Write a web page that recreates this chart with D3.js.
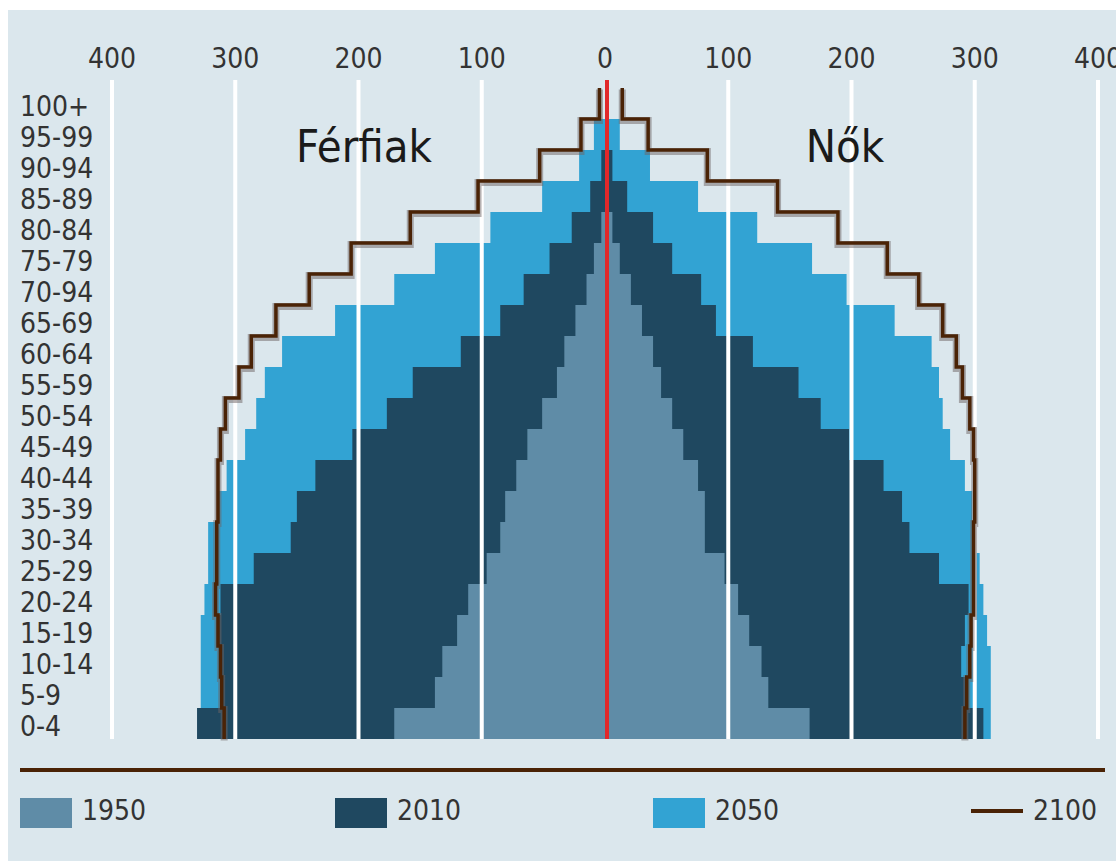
<!DOCTYPE html>
<head>
    <meta charset="utf-8"/>
    <script src="https://d3js.org/d3.v7.min.js"></script>
    <style>
        body {
            margin: 0;
            background: #fff;
        }
        text {
            font-family: "DejaVu Sans Condensed", "DejaVu Sans", sans-serif;
            font-stretch: condensed;
        }
    </style>
</head>

<body>
<script>
    var width = 1116,
        height = 861;

    // age groups, top to bottom (label "70-94" is as printed in the original)
    var ages = ["100+", "95-99", "90-94", "85-89", "80-84", "75-79", "70-94", "65-69", "60-64", "55-59",
        "50-54", "45-49", "40-44", "35-39", "30-34", "25-29", "20-24", "15-19", "10-14", "5-9", "0-4"];

    // férfiak (left), millions
    var men1950 = [0, 0, 0, 0, 3, 9, 15, 24, 33, 39, 51, 63, 72, 81, 85, 96, 111, 120, 132, 138, 171];
    var men2010 = [0, 0, 3, 12, 27, 45, 66, 85, 117, 156, 177, 205, 235, 250, 255, 285, 312, 314, 313, 312, 331];
    var men2050 = [0, 9, 21, 51, 93, 138, 171, 219, 262, 276, 283, 292, 307, 313, 322, 322, 325, 328, 328, 328, 325];
    var men2100 = [4.5, 19.5, 53, 103, 158, 206, 240, 267, 287, 297, 308, 312, 314, 314, 315, 315, 316, 314, 312, 311, 309];

    // nők (right)
    var women1950 = [0, 0, 0, 0, 6, 12, 21, 30, 39, 45.5, 54.5, 63.5, 75.5, 81, 81, 97, 108, 117, 127, 132.5, 166];
    var women2010 = [0, 0, 6, 18, 39, 54.5, 78, 90, 120, 157, 175, 198, 226, 241, 247, 271, 295, 292, 289, 292, 307];
    var women2050 = [0, 12, 36.5, 75.5, 123.5, 168, 196, 235, 265, 271, 274, 280, 292, 298, 299, 304, 307, 310, 313, 313, 313];
    var women2100 = [14, 35, 83, 140, 189, 229, 254.5, 274, 285, 290, 296, 299, 300, 300, 299, 299, 299, 297, 296, 293.5, 292];

    var ticks = [0, 100, 200, 300, 400];
    var years = ["1950", "2010", "2050", "2100"];

    var colors = {"1950": "#5f8ca7", "2010": "#1f4860", "2050": "#32a3d3", "2100": "#4a2306"};

    var svg = d3.select("body").append("svg")
        .attr("width", width)
        .attr("height", height);

    // fond
    svg.append("rect")
        .attr("x", 8).attr("y", 10)
        .attr("width", width - 8).attr("height", height - 10)
        .attr("fill", "#dbe7ed");

    var xL = d3.scaleLinear().domain([0, 400]).range([605, 112]);
    var xR = d3.scaleLinear().domain([0, 400]).range([605, 1098]);
    var y = d3.scaleBand().domain(ages).range([88, 739]);

    var series = [
        {year: "2050", men: men2050, women: women2050},
        {year: "2010", men: men2010, women: women2010},
        {year: "1950", men: men1950, women: women1950}
    ];

    series.forEach(function (s) {
        var g = svg.append("g").attr("fill", colors[s.year]);
        g.selectAll("rect.m").data(ages).join("rect")
            .attr("class", "m")
            .attr("x", function (d, i) { return xL(s.men[i]); })
            .attr("y", function (d) { return y(d); })
            .attr("width", function (d, i) { return xL(0) - xL(s.men[i]); })
            .attr("height", y.bandwidth());
        g.selectAll("rect.f").data(ages).join("rect")
            .attr("class", "f")
            .attr("x", xR(0))
            .attr("y", function (d) { return y(d); })
            .attr("width", function (d, i) { return xR(s.women[i]) - xR(0); })
            .attr("height", y.bandwidth());
    });

    // grille blanche par-dessus les barres
    var grid = ticks.slice(1);
    svg.append("g").selectAll("line")
        .data(grid.map(xL).concat(grid.map(xR)))
        .join("line")
        .attr("x1", function (d) { return d; })
        .attr("x2", function (d) { return d; })
        .attr("y1", 80).attr("y2", 739)
        .attr("stroke", "#fff")
        .attr("stroke-width", 4);

    svg.append("line")
        .attr("x1", xR(0) + 2).attr("x2", xR(0) + 2)
        .attr("y1", 80).attr("y2", 739)
        .attr("stroke", "#e1282a")
        .attr("stroke-width", 4);

    // 2100 : ligne en escalier
    function steps(vals, x) {
        var pts = [];
        ages.forEach(function (a, i) {
            pts.push([x(vals[i]), y(a)]);
            pts.push([x(vals[i]), y(a) + y.bandwidth()]);
        });
        return pts;
    }
    var line = d3.line();
    [steps(men2100, xL), steps(women2100, xR)].forEach(function (pts) {
        svg.append("path")
            .attr("d", line(pts))
            .attr("fill", "none")
            .attr("stroke", "rgba(110,100,100,0.5)")
            .attr("stroke-width", 7)
            .attr("transform", "translate(0,1.5)");
        svg.append("path")
            .attr("d", line(pts))
            .attr("fill", "none")
            .attr("stroke", colors["2100"])
            .attr("stroke-width", 3.5);
    });

    // étiquettes de l'axe
    var tickLabels = [{x: xL(0), t: 0}];
    ticks.slice(1).forEach(function (t) {
        tickLabels.push({x: xL(t), t: t});
        tickLabels.push({x: xR(t), t: t});
    });
    svg.append("g").selectAll("text").data(tickLabels).join("text")
        .attr("x", function (d) { return d.x; })
        .attr("y", 68)
        .attr("text-anchor", "middle")
        .attr("font-size", 28)
        .attr("fill", "#333")
        .text(function (d) { return d.t; });

    svg.append("g").selectAll("text").data(ages).join("text")
        .attr("x", 20)
        .attr("y", function (d) { return y(d) + y.bandwidth() - 3.5; })
        .attr("font-size", 28)
        .attr("fill", "#333")
        .text(function (d) { return d; });

    svg.append("text").attr("x", 364).attr("y", 162)
        .attr("text-anchor", "middle").attr("font-size", 45).attr("fill", "#1a1a1a")
        .text("Férfiak");
    svg.append("text").attr("x", 845).attr("y", 162)
        .attr("text-anchor", "middle").attr("font-size", 45).attr("fill", "#1a1a1a")
        .text("Nők");

    // séparateur et légende
    svg.append("line")
        .attr("x1", 20).attr("x2", 1105)
        .attr("y1", 770).attr("y2", 770)
        .attr("stroke", colors["2100"])
        .attr("stroke-width", 4);

    var legendX = [20, 335, 653, 971];
    var legend = svg.append("g").selectAll("g").data(years).join("g")
        .attr("transform", function (d, i) { return "translate(" + legendX[i] + ",798)"; });
    legend.filter(function (d) { return d !== "2100"; }).append("rect")
        .attr("width", 52).attr("height", 30)
        .attr("fill", function (d) { return colors[d]; });
    legend.filter(function (d) { return d === "2100"; }).append("line")
        .attr("x1", 0).attr("x2", 52).attr("y1", 13).attr("y2", 13)
        .attr("stroke", colors["2100"]).attr("stroke-width", 4);
    legend.append("text")
        .attr("x", 62).attr("y", 22)
        .attr("font-size", 28)
        .attr("fill", "#333")
        .text(function (d) { return d; });
</script>
</body>
